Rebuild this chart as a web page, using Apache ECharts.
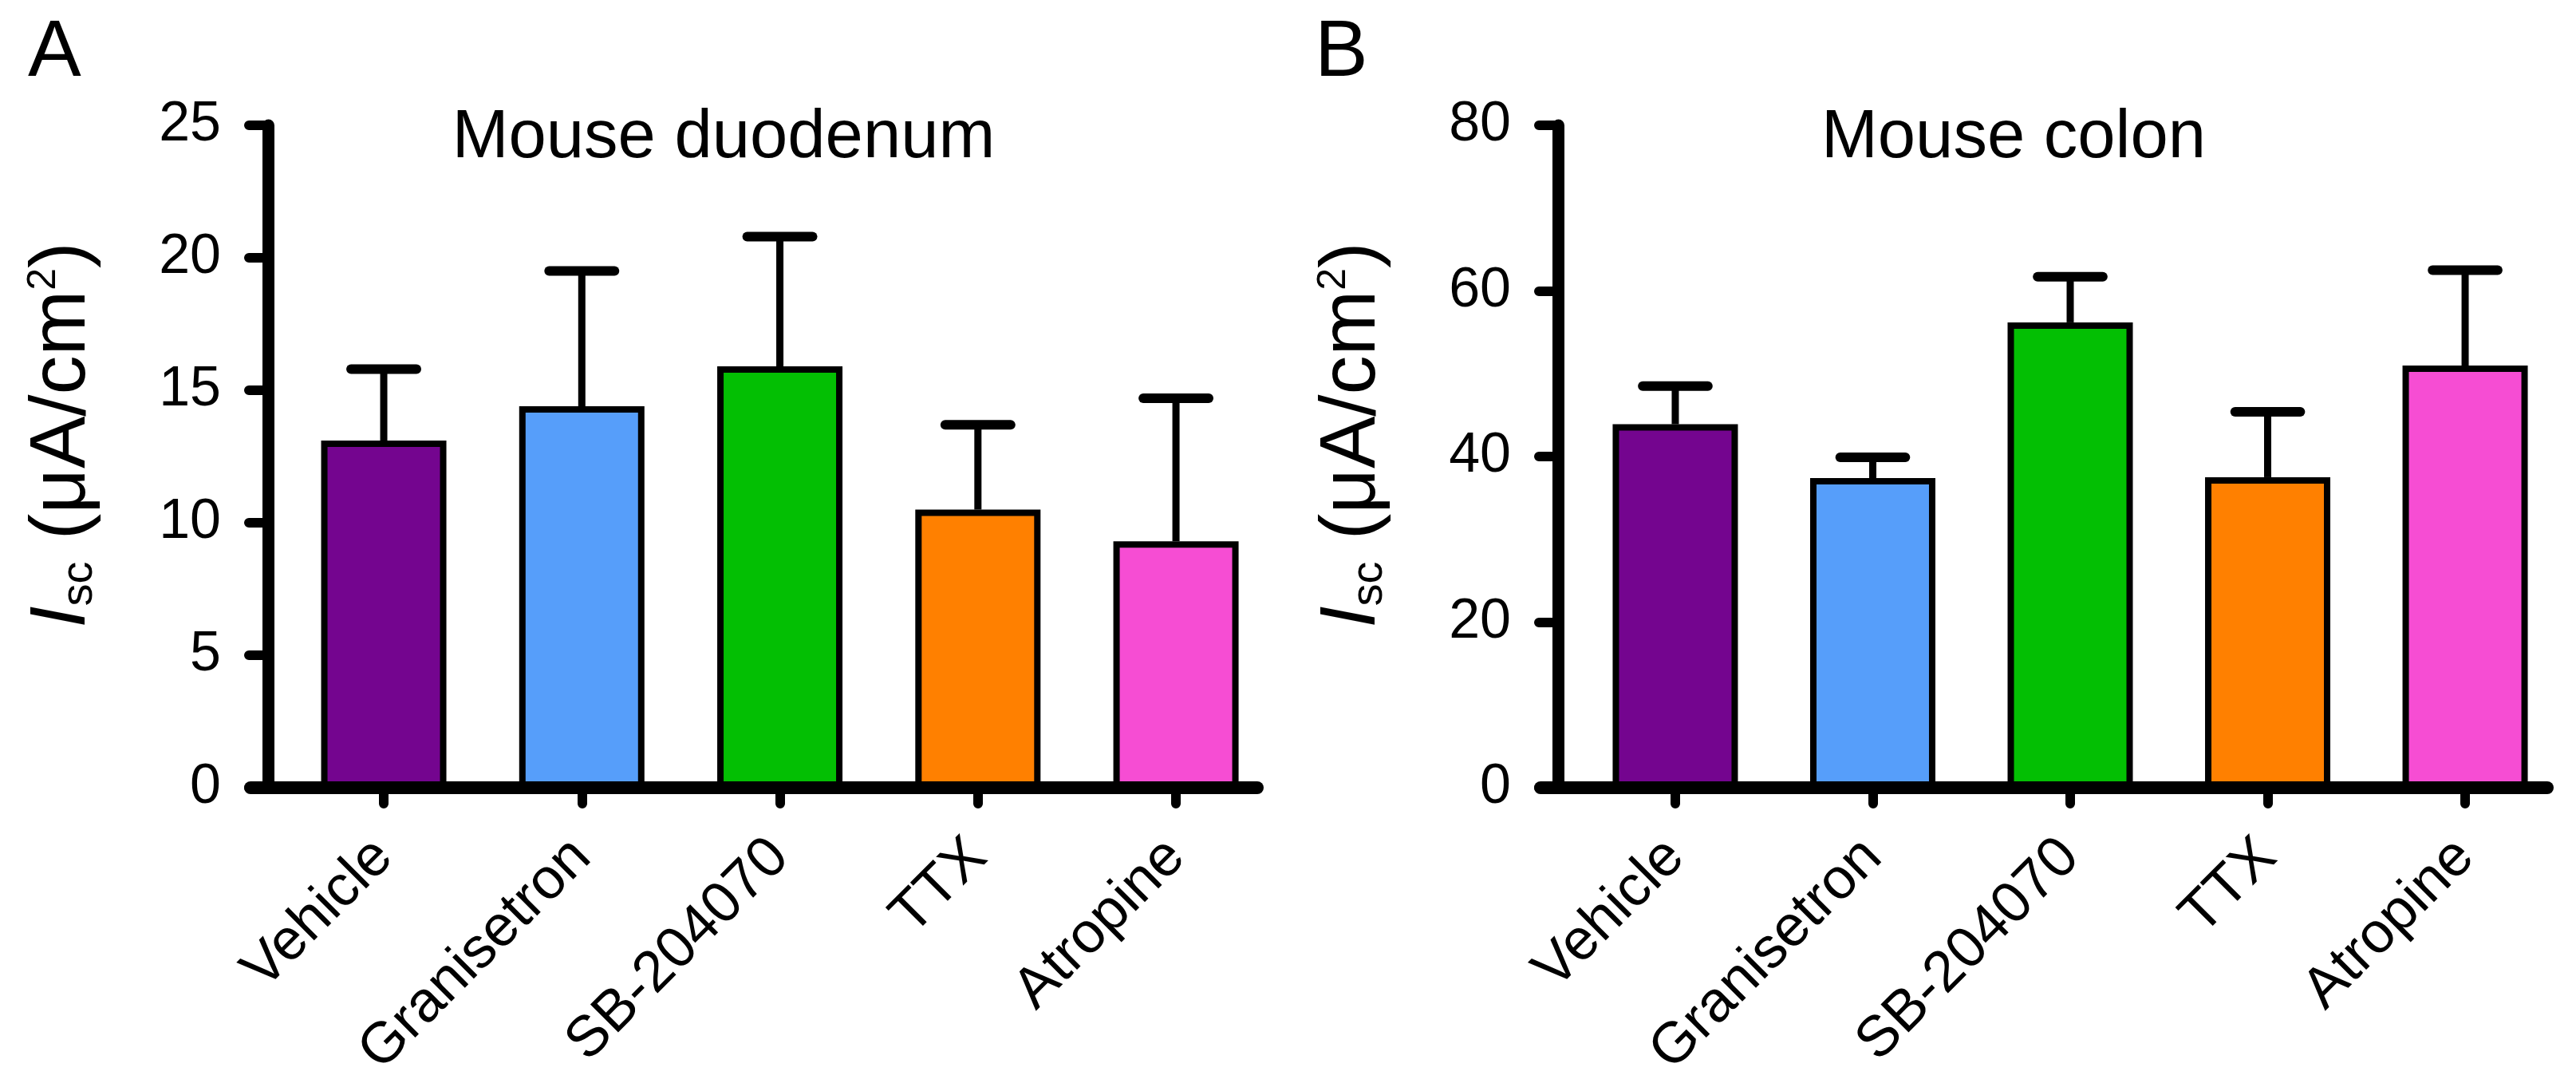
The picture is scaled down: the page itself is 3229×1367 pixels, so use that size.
<!DOCTYPE html>
<html>
<head>
<meta charset="utf-8">
<script src="https://cdn.jsdelivr.net/npm/echarts@6/dist/echarts.min.js"></script>
<style>
html,body{margin:0;padding:0;background:#fff;}
#chart{width:3229px;height:1367px;}
</style>
</head>
<body>
<div id="chart"></div>
<script>
// ---- data ----
const categories = ['Vehicle', 'Granisetron', 'SB-204070', 'TTX', 'Atropine'];
const barColors = ['#74058F', '#569EFA', '#03BF03', '#FF8000', '#F64DD3'];
const duodenumMean = [13.1, 14.4, 15.9, 10.5, 9.3];
const duodenumSEM = [2.7, 5.1, 4.9, 3.2, 5.4];
const colonMean = [43.9, 37.4, 56.2, 37.5, 51.0];
const colonSEM = [4.6, 2.5, 5.5, 7.9, 11.5];
const duodenumTicks = {min: 0, max: 25, interval: 5};
const colonTicks = {min: 0, max: 80, interval: 20};
const panelTitles = ['Mouse duodenum', 'Mouse colon'];
const panelLetters = ['A', 'B'];

const FONT = '"Liberation Sans", Arial, Helvetica, sans-serif';

const chart = echarts.init(document.getElementById('chart'), null, {renderer: 'canvas'});

function renderErr(params, api) {
  const x = api.value(0), m = api.value(1), s = api.value(2);
  const base = api.coord([x, m]);
  const top = api.coord([x, m + s]);
  const half = api.size([1, 0])[0] * 0.165;
  return {
    type: 'group',
    children: [
      {type: 'line', shape: {x1: base[0], y1: base[1], x2: top[0], y2: top[1]},
       style: {stroke: '#000', lineWidth: 9}},
      {type: 'line', shape: {x1: top[0] - half, y1: top[1], x2: top[0] + half, y2: top[1]},
       style: {stroke: '#000', lineWidth: 12, lineCap: 'round'}}
    ]
  };
}

const yName = '{i|I}{sub|sc}{n| (μA/cm}{sup|2}{n|)}';
const yRich = {
  i: {fontFamily: FONT, fontSize: 98, fontStyle: 'italic', color: '#000'},
  sub: {fontFamily: FONT, fontSize: 56, color: '#000', verticalAlign: 'bottom', lineHeight: 46},
  n: {fontFamily: FONT, fontSize: 98, color: '#000'},
  sup: {fontFamily: FONT, fontSize: 50, color: '#000', verticalAlign: 'top', lineHeight: 44}
};

// panel layout (pixels)
const panels = [
  {axisX: 336, bandLeft: 356.9, bandWidth: 1241.3, lineLeft: 314, lineRight: 1576, ticks: duodenumTicks, mean: duodenumMean, sem: duodenumSEM},
  {axisX: 1953, bandLeft: 1976.2, bandWidth: 1237.6, lineLeft: 1931, lineRight: 3193, ticks: colonTicks, mean: colonMean, sem: colonSEM}
];
const TOP = 157, HEIGHT = 830;

const grid = [], xAxis = [], yAxis = [], series = [];
panels.forEach((p, k) => {
  const gMain = grid.length;
  grid.push({left: p.bandLeft, top: TOP, width: p.bandWidth, height: HEIGHT, containLabel: false});
  const gLine = grid.length;
  grid.push({left: p.lineLeft, top: TOP, width: p.lineRight - p.lineLeft, height: HEIGHT, containLabel: false});

  xAxis.push({
    gridIndex: gMain, type: 'category', data: categories, boundaryGap: true,
    axisLine: {show: false},
    axisTick: {show: true, alignWithLabel: true, length: 20, lineStyle: {color: '#000', width: 12, cap: 'round'}},
    axisLabel: {interval: 0, rotate: 45, margin: 76, fontSize: 72, fontFamily: FONT, color: '#000'},
    splitLine: {show: false}
  });
  yAxis.push({
    gridIndex: gMain, type: 'value', min: p.ticks.min, max: p.ticks.max, interval: p.ticks.interval,
    offset: p.bandLeft - p.axisX,
    axisLine: {show: true, lineStyle: {color: '#000', width: 15, cap: 'round'}},
    axisTick: {show: true, length: 24, lineStyle: {color: '#000', width: 12, cap: 'round'}},
    axisLabel: {margin: 59, fontSize: 70, fontFamily: FONT, color: '#000'},
    splitLine: {show: false},
    name: yName, nameLocation: 'middle', nameRotate: 90, nameGap: 208,
    nameTextStyle: {rich: yRich, padding: [0, 0, 0, 54]}
  });
  // plain x-axis baseline spanning the full GraphPad-style width
  xAxis.push({
    gridIndex: gLine, type: 'value', min: 0, max: 1,
    axisLine: {show: true, onZero: false, lineStyle: {color: '#000', width: 16, cap: 'round'}},
    axisTick: {show: false}, axisLabel: {show: false}, splitLine: {show: false}
  });
  yAxis.push({gridIndex: gLine, type: 'value', min: 0, max: 1, show: false});

  const xi = k * 2, yi = k * 2;
  series.push({
    type: 'custom', xAxisIndex: xi, yAxisIndex: yi, z: 1, clip: false,
    renderItem: renderErr, encode: {x: 0, y: 1},
    data: p.mean.map((m, i) => [i, m, p.sem[i]])
  });
  series.push({
    type: 'bar', xAxisIndex: xi, yAxisIndex: yi, z: 3, barWidth: 157,
    itemStyle: {borderColor: '#000', borderWidth: 8},
    data: p.mean.map((m, i) => ({value: m, itemStyle: {color: barColors[i]}}))
  });
});

const graphic = [
  {type: 'text', style: {x: 35, y: 67, text: panelLetters[0], font: '100px ' + FONT, fill: '#000', verticalAlign: 'middle', align: 'left'}},
  {type: 'text', style: {x: 1648, y: 67, text: panelLetters[1], font: '100px ' + FONT, fill: '#000', verticalAlign: 'middle', align: 'left'}},
  {type: 'text', style: {x: 907, y: 174, text: panelTitles[0], font: '85px ' + FONT, fill: '#000', verticalAlign: 'middle', align: 'center'}},
  {type: 'text', style: {x: 2524, y: 174, text: panelTitles[1], font: '85px ' + FONT, fill: '#000', verticalAlign: 'middle', align: 'center'}}
];

chart.setOption({
  animation: false,
  backgroundColor: '#fff',
  grid, xAxis, yAxis, series, graphic
});
</script>
</body>
</html>
